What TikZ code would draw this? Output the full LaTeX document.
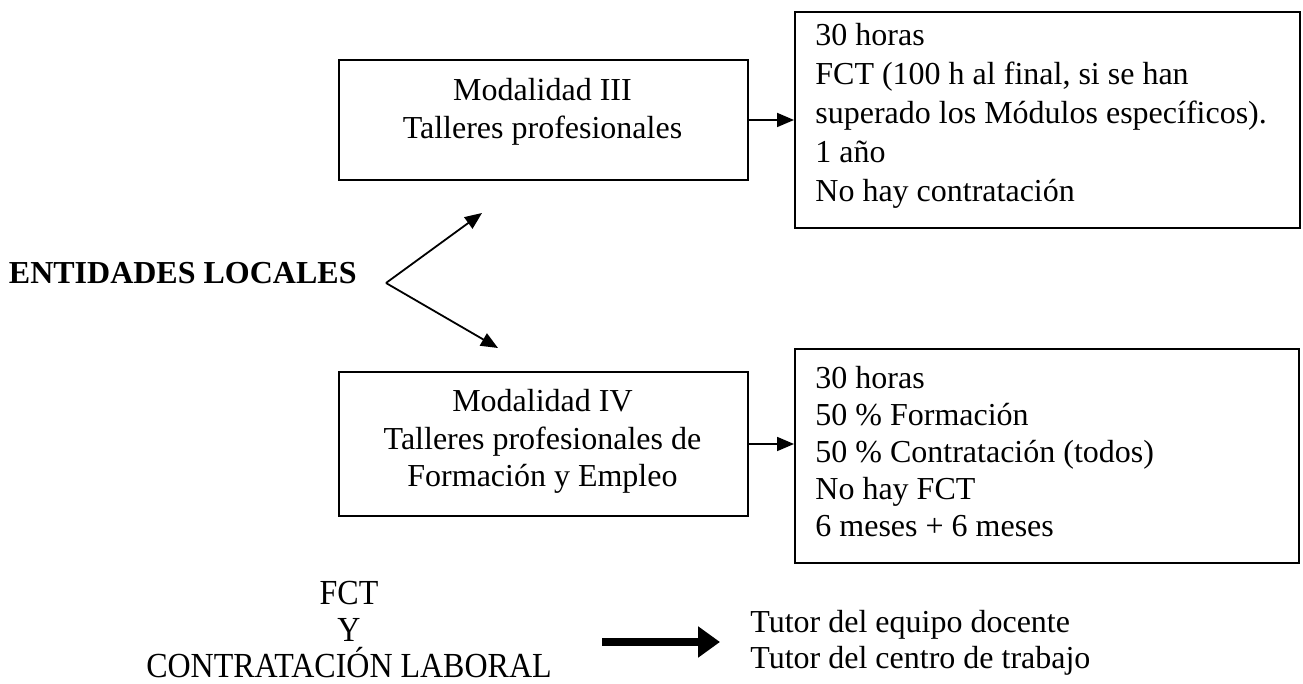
\documentclass[tikz,border=0pt]{standalone}
\usepackage{fontspec}
\setmainfont{Liberation Serif}
\usepackage{tikz}
\usetikzlibrary{arrows.meta}

\tikzset{
  caja/.style={draw, rectangle, line width=1pt, inner sep=0pt, anchor=north west},
  texto/.style={inner sep=0pt, font=\fontsize{16}{18.75}\selectfont},
  flecha/.style={-{Triangle[length=8.5pt,width=7pt]}, line width=0.9pt},
  gruesa/.style={-{Triangle[length=11pt,width=15pt]}, line width=4pt}
}

\begin{document}
\begin{tikzpicture}[x=0.5pt, y=-0.5pt]
            \useasboundingbox (0,0) rectangle (1303,684);

            % Left - Entidades locales
            \node[texto, anchor=east, font=\fontsize{16}{18.75}\selectfont\bfseries] (ent) at (357,273) {ENTIDADES LOCALES};
            \coordinate (vert) at (386,283);
            \coordinate (haciaIII) at (482,213);
            \coordinate (haciaIV) at (498,348);

            % Modalidades
            \node[caja, minimum width=204.5pt, minimum height=60pt] (mod3) at (338,59) {};
            \node[texto, anchor=north, align=center] (mod3t) at (542.5,78) {Modalidad III\\Talleres profesionales};

            \node[caja, minimum width=204.5pt, minimum height=72pt] (mod4) at (338,371) {};
            \node[texto, anchor=north, align=center] (mod4t) at (542.5,389) {Modalidad IV\\Talleres profesionales de\\Formación y Empleo};

            % Detalles
            \node[caja, minimum width=252.5pt, minimum height=108pt] (det3) at (794,11) {};
            \node[texto, anchor=north west, align=left, font=\fontsize{16}{19.5}\selectfont] (det3t) at (815,23) {30 horas\\FCT (100 h al final, si se han\\superado los Módulos específicos).\\1 año\\No hay contratación};

            \node[caja, minimum width=252pt, minimum height=107pt] (det4) at (794,348) {};
            \node[texto, anchor=north west, align=left, font=\fontsize{16}{18.5}\selectfont] (det4t) at (815,366) {30 horas\\50 \% Formación\\50 \% Contratación (todos)\\No hay FCT\\6 meses + 6 meses};

            % Bottom - FCT y tutores
            \node[texto, align=center, font=\fontsize{16}{18.25}\selectfont] (fct) at (349,630) {\scalebox{1}[1.1]{FCT}\\\scalebox{1}[1.1]{Y}\\\scalebox{1}[1.1]{CONTRATACIÓN LABORAL}};
            \node[texto, anchor=west, align=left, font=\fontsize{16}{18}\selectfont] (tutor) at (750,643) {Tutor del equipo docente\\Tutor del centro de trabajo};
            \coordinate (ga) at (602,642);
            \coordinate (gb) at (720,642);

            % Arrows
            \draw[flecha] (vert) -- (haciaIII);
            \draw[flecha] (vert) -- (haciaIV);
            \draw[flecha] (mod3.east) -- (det3.west);
            \draw[flecha] (mod4.east) -- (mod4.east -| det4.west);
            \draw[gruesa] (ga) -- (gb);
\end{tikzpicture}
\end{document}
